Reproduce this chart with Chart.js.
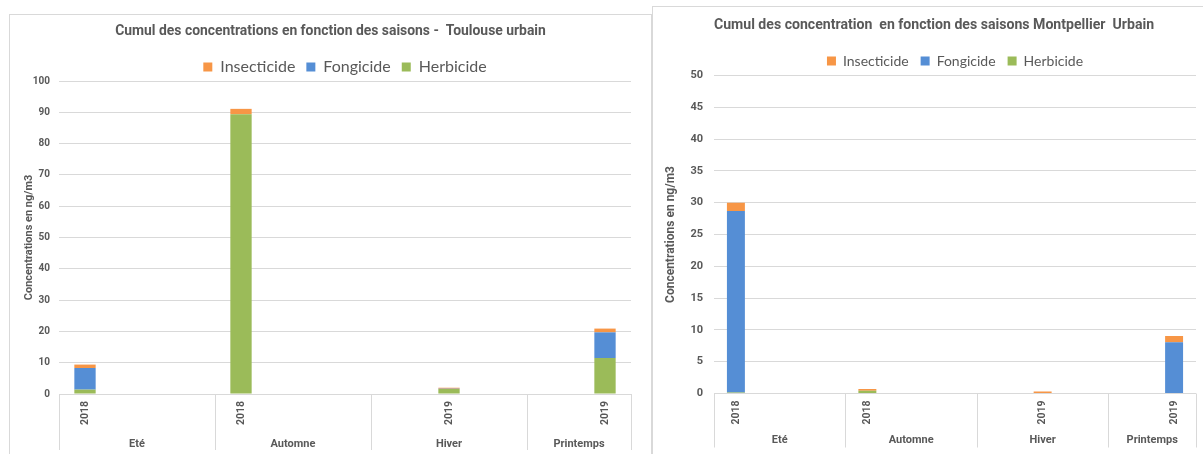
<!DOCTYPE html>
<html lang="fr">
<head>
<meta charset="utf-8">
<title>Cumul des concentrations en fonction des saisons</title>
<script src="https://cdn.jsdelivr.net/npm/chart.js@4/dist/chart.umd.min.js"></script>
<style>
  html, body { margin: 0; padding: 0; background: #ffffff; }
  body { position: relative; width: 1203px; height: 454px; overflow: hidden; }
  .frame { position: absolute; box-sizing: border-box; border: 1px solid #d9d9d9; background: #ffffff; }
  #frameToulouse { left: 9px; top: 14px; width: 643px; height: 500px; }
  #frameMontpellier { left: 652px; top: 6px; width: 620px; height: 500px; }
  canvas { position: absolute; }
  #chartToulouse { left: 10px; top: 15px; }
  #chartMontpellier { left: 654px; top: 7px; }
</style>
</head>
<body>
<div class="frame" id="frameToulouse"></div>
<div class="frame" id="frameMontpellier"></div>
<canvas id="chartToulouse" width="641" height="439"></canvas>
<canvas id="chartMontpellier" width="560" height="447"></canvas>
<script>
// Category slots: three per season (two for spring), year shown under the filled slot
const slotYears = ['2018', '', '', '2018', '', '', '', '2019', '', '', '2019'];
const seasons = ['Eté', 'Automne', 'Hiver', 'Printemps'];
const seasonSlots = [3, 3, 3, 2];

// Series (stacked bottom to top: Herbicide, Fongicide, Insecticide)
const seriesNames = ['Herbicide', 'Fongicide', 'Insecticide'];
const seriesColors = ['#9BBB59', '#558ED5', '#F79646'];

// Toulouse urbain, ng/m3
const toulouseHerbicide   = [1.4, null, null, 89.4, null, null, null, 1.6, null, null, 11.5];
const toulouseFongicide   = [6.9, null, null, 0,    null, null, null, 0.1, null, null, 8.2];
const toulouseInsecticide = [1.1, null, null, 1.7,  null, null, null, 0.3, null, null, 1.2];

// Montpellier urbain, ng/m3
const montpellierHerbicide   = [0.15,  null, null, 0.45, null, null, null, 0,   null, null, 0];
const montpellierFongicide   = [28.55, null, null, 0,    null, null, null, 0,   null, null, 8.05];
const montpellierInsecticide = [1.3,   null, null, 0.25, null, null, null, 0.3, null, null, 1.0];

// Value axes
const toulouseAxis = { max: 100, step: 10 };
const montpellierAxis = { max: 50, step: 5 };

const FONT = 'Lato, "Open Sans", sans-serif';
const BOLD_FONT = 'Roboto, "Open Sans", sans-serif';
const TEXT = '#595959';
const GRID = '#D9D9D9';

// Second level of the category axis: season names and group separators
const seasonAxis = {
  id: 'seasonAxis',
  afterDraw(chart, args, opts) {
    const x = chart.scales.x;
    const area = chart.chartArea;
    const ctx = chart.ctx;
    ctx.save();
    ctx.strokeStyle = GRID;
    ctx.lineWidth = 1;
    ctx.beginPath();
    let start = 0;
    const edges = [-0.5];
    seasonSlots.forEach(n => { start += n; edges.push(start - 0.5); });
    edges.forEach(e => {
      const px = Math.round(x.getPixelForValue(e)) + 0.5;
      ctx.moveTo(px, area.bottom);
      ctx.lineTo(px, area.bottom + opts.lineLength);
    });
    ctx.stroke();
    ctx.fillStyle = TEXT;
    ctx.font = 'bold 11px ' + BOLD_FONT;
    ctx.textAlign = 'center';
    ctx.textBaseline = 'middle';
    start = 0;
    seasons.forEach((name, i) => {
      const mid = start + (seasonSlots[i] - 1) / 2;
      ctx.fillText(name, x.getPixelForValue(mid), area.bottom + opts.labelOffset);
      start += seasonSlots[i];
    });
    ctx.restore();
  }
};

// Tightens the space kept under the legend row
const legendTrim = {
  id: 'legendTrim',
  beforeLayout(chart, args, opts) {
    const lg = chart.legend;
    if (lg && !lg.$trimmed) {
      const fit = lg.fit;
      lg.fit = function () {
        fit.call(this);
        this.height = Math.max(0, this.height - opts.trim);
      };
      lg.$trimmed = true;
    }
  }
};

function buildChart(id, c) {
  const values = [c.herbicide, c.fongicide, c.insecticide];
  return new Chart(document.getElementById(id), {
    type: 'bar',
    data: {
      labels: slotYears,
      datasets: seriesNames.map((name, i) => ({
        label: name,
        data: values[i],
        backgroundColor: seriesColors[i],
        borderWidth: 0
      }))
    },
    options: {
      responsive: false,
      animation: false,
      // equal side margins keep the chart title centred on the frame
      layout: { padding: { left: c.side, right: c.side, top: 0, bottom: 0 } },
      datasets: { bar: { barPercentage: 0.41, categoryPercentage: 1 } },
      plugins: {
        title: {
          display: true,
          text: c.title,
          color: TEXT,
          font: { family: BOLD_FONT, size: c.titleSize, weight: 'bold' },
          padding: { top: c.titleTop, bottom: c.titleBottom }
        },
        legend: {
          display: true,
          position: 'top',
          fullSize: false,
          reverse: true,
          labels: {
            boxWidth: 9,
            boxHeight: 9,
            padding: c.legendPad,
            color: TEXT,
            font: { family: FONT, size: c.legendSize }
          }
        },
        tooltip: { enabled: false },
        seasonAxis: { lineLength: c.sepLength, labelOffset: c.seasonOffset },
        legendTrim: { trim: c.legendTrim }
      },
      scales: {
        x: {
          stacked: true,
          grid: { display: false, drawTicks: false },
          border: { display: false },
          ticks: {
            autoSkip: false,
            maxRotation: 90,
            minRotation: 90,
            padding: 7,
            color: TEXT,
            font: { family: BOLD_FONT, size: 10.5, weight: 'bold' }
          },
          afterFit(s) { s.height = c.xHeight; }
        },
        y: {
          stacked: true,
          min: 0,
          max: c.axis.max,
          ticks: {
            stepSize: c.axis.step,
            padding: c.tickPad,
            color: TEXT,
            font: { family: BOLD_FONT, size: c.tickSize, weight: 'bold' }
          },
          grid: { color: GRID, drawTicks: false },
          border: { display: false },
          title: {
            display: true,
            text: 'Concentrations en ng/m3',
            color: TEXT,
            font: { family: BOLD_FONT, size: c.yTitleSize, weight: 'bold' },
            padding: { top: c.yTitleX - c.side, bottom: 0 }
          },
          afterFit(s) { s.width = c.plotLeft - c.side; }
        }
      }
    },
    plugins: [seasonAxis, legendTrim]
  });
}

buildChart('chartToulouse', {
  title: 'Cumul des concentrations en fonction des saisons -  Toulouse urbain',
  herbicide: toulouseHerbicide,
  fongicide: toulouseFongicide,
  insecticide: toulouseInsecticide,
  axis: toulouseAxis,
  side: 20,
  titleSize: 13.9, titleTop: 8.66, titleBottom: 7.66,
  legendSize: 16, legendPad: 11, legendTrim: 4,
  tickSize: 10, tickPad: 9,
  yTitleSize: 11, yTitleX: 12.4,
  plotLeft: 49, xHeight: 60,
  sepLength: 56, seasonOffset: 50
});

buildChart('chartMontpellier', {
  title: 'Cumul des concentration  en fonction des saisons Montpellier  Urbain',
  herbicide: montpellierHerbicide,
  fongicide: montpellierFongicide,
  insecticide: montpellierInsecticide,
  axis: montpellierAxis,
  side: 18,
  titleSize: 14.1, titleTop: 9.54, titleBottom: 8.54,
  legendSize: 14, legendPad: 12, legendTrim: 2.5,
  tickSize: 11, tickPad: 11,
  yTitleSize: 12, yTitleX: 9.3,
  plotLeft: 60, xHeight: 60.5,
  sepLength: 54, seasonOffset: 46.5
});
</script>
</body>
</html>
